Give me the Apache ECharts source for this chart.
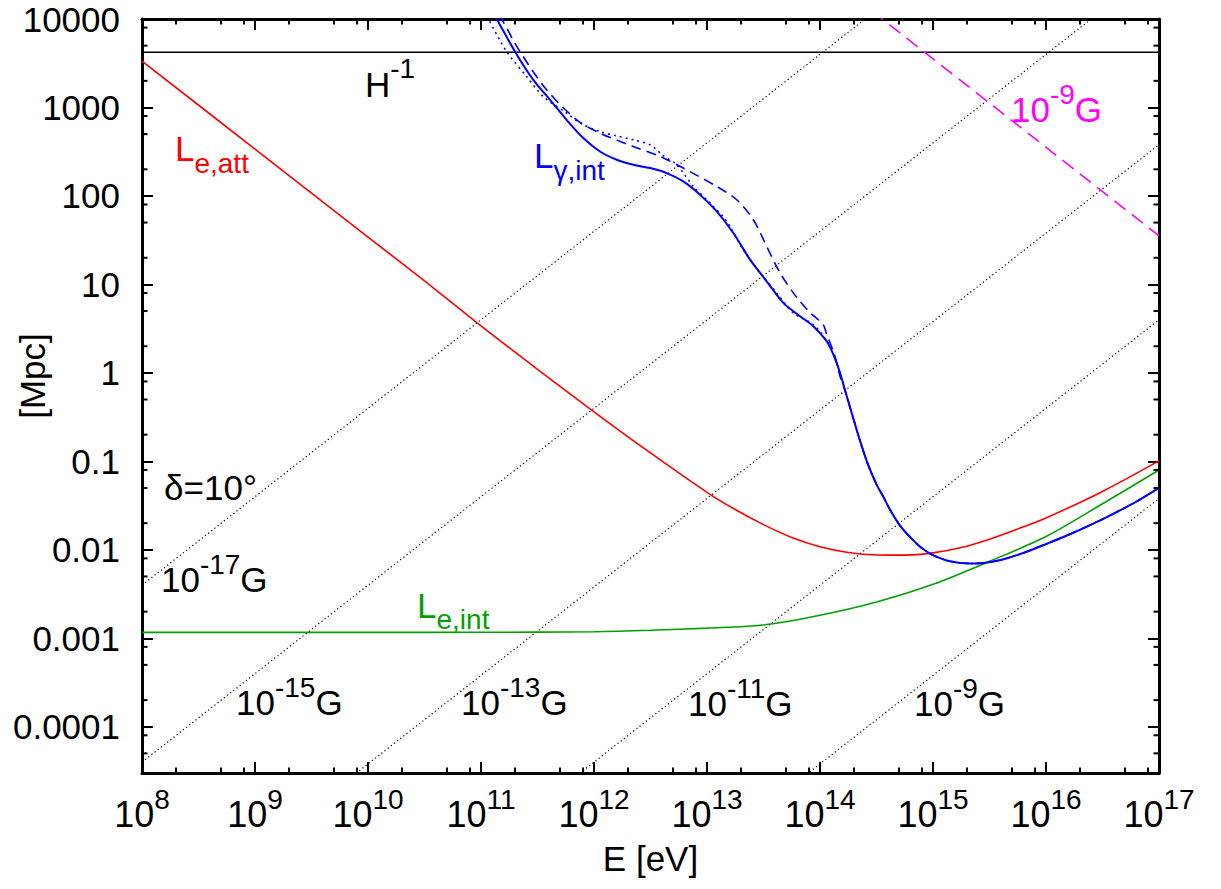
<!DOCTYPE html>
<html><head><meta charset="utf-8">
<script src="https://cdn.jsdelivr.net/npm/echarts@6/dist/echarts.min.js"></script>
<style>html,body{margin:0;padding:0;background:#fff}#c{width:1221px;height:889px}</style>
</head><body><div id="c"></div>
<script>
// ---------- axis ranges and ticks ----------
const X_MIN = 1e8, X_MAX = 1e17;
const Y_MIN = 3e-5, Y_MAX = 1e4;
const minorMultipliers = [2, 5, 8];
const xMinorDecades = [8, 9, 10, 11, 12, 13, 14, 15, 16];
const yMinorDecades = [-5, -4, -3, -2, -1, 0, 1, 2, 3];

// ---------- data (log10 E [eV], log10 L [Mpc]) ----------
const redLogE = [8, 9, 10, 10.5, 11, 11.5, 12, 12.5, 13, 13.25, 13.5, 13.75, 14, 14.25, 14.5, 14.75, 15, 15.25, 15.5, 15.75, 16, 16.5, 17];
const redLogL = [3.523, 2.53, 1.535, 1.04, 0.53, 0.04, -0.44, -0.905, -1.35, -1.545, -1.715, -1.86, -1.965, -2.03, -2.058, -2.06, -2.035, -1.975, -1.88, -1.765, -1.64, -1.34, -0.995];

const greenLogE = [8, 10, 11, 12, 12.5, 13, 13.5, 14, 14.5, 15, 15.5, 16, 16.5, 17];
const greenLogL = [-2.933, -2.933, -2.932, -2.926, -2.91, -2.885, -2.85, -2.74, -2.59, -2.39, -2.13, -1.85, -1.48, -1.098];

// common steep tail of the three photon curves
const tailLogE = [14.22, 14.28, 14.35, 14.42, 14.5, 14.56, 14.63, 14.71, 14.8, 14.9, 15.0, 15.15, 15.33, 15.45, 15.6, 15.8, 16.0, 16.2, 16.4, 16.6, 16.8, 17];
const tailLogL = [-0.19, -0.45, -0.75, -1.02, -1.26, -1.4, -1.57, -1.73, -1.86, -1.98, -2.06, -2.13, -2.155, -2.148, -2.115, -2.035, -1.935, -1.83, -1.715, -1.59, -1.455, -1.3];

const blueSolidLogE = [11.05, 11.139, 11.301, 11.463, 11.611, 11.758, 11.905, 12.053, 12.201, 12.348, 12.496, 12.643, 12.79, 12.938, 13.086, 13.233, 13.381, 13.528, 13.675, 13.764, 13.823, 13.941, 14.059, 14.118, 14.177];
const blueSolidLogL = [4.2, 4.0, 3.631, 3.312, 3.086, 2.86, 2.654, 2.502, 2.409, 2.352, 2.315, 2.258, 2.164, 2.014, 1.825, 1.581, 1.28, 1.035, 0.791, 0.696, 0.64, 0.527, 0.358, 0.208, 0.001];

const blueDashLogE = [11.09, 11.183, 11.345, 11.581, 11.847, 12.053, 12.348, 12.584, 12.79, 13.086, 13.263, 13.41, 13.528, 13.646, 13.764, 13.823, 13.912, 13.956, 14.029, 14.059, 14.118, 14.148, 14.177];
const blueDashLogL = [4.2, 4.0, 3.631, 3.199, 2.86, 2.71, 2.559, 2.446, 2.315, 2.107, 1.957, 1.731, 1.43, 1.13, 0.904, 0.809, 0.678, 0.633, 0.546, 0.434, 0.245, 0.114, -0.037];

const blueDotLogE = [11.0, 11.065, 11.227, 11.404, 11.551, 11.758, 11.891, 12.053, 12.201, 12.348, 12.496, 12.614, 12.732, 12.879, 13.027, 13.174, 13.321, 13.469, 13.617, 13.764, 13.941, 14.059, 14.118, 14.177];
const blueDotLogL = [4.15, 4.0, 3.631, 3.349, 3.123, 2.936, 2.815, 2.728, 2.679, 2.634, 2.578, 2.454, 2.352, 2.107, 1.92, 1.712, 1.393, 1.13, 0.904, 0.678, 0.546, 0.36, 0.21, 0.0];

const hubbleL = 4200;                 // H^-1 [Mpc]
const magentaLogE = [14.0, 17.0];     // 10^-9 G line
const magentaLogL = [4.55, 1.55];
// deflection lines for delta = 10 deg: log10 L at E = 1e8 and at E = 1e17
const deflNames = ['1e-17G', '1e-15G', '1e-13G', '1e-11G', '1e-9G'];
const deflLogLStart = [-2.40, -4.40, -6.42, -8.40, -10.42];
const deflLogLEnd = [6.60, 4.60, 2.58, 0.60, -1.42];

// ---------- helpers ----------
const pairs = (le, ll) => le.map((e, i) => [Math.pow(10, e), Math.pow(10, ll[i])]);
const FONT = 'Liberation Sans, Arial, Helvetica, sans-serif';

const richSup = {
  b: { fontSize: 35, lineHeight: 47, verticalAlign: 'bottom', fontFamily: FONT },
  p: { fontSize: 28, lineHeight: 28, verticalAlign: 'top', fontFamily: FONT }
};
const richSub = {
  l: { fontSize: 35, lineHeight: 46, verticalAlign: 'top', fontFamily: FONT },
  u: { fontSize: 28, lineHeight: 28, verticalAlign: 'bottom', fontFamily: FONT }
};

// annotation texts, anchored in data space (top-left of text box)
const annotations = [
  { t: '{b|H}{p|-1}', e: 9.973, l: 3.594, c: '#000', r: 'sup' },
  { t: '{l|L}{u|e,att}', e: 8.292, l: 2.730, c: '#ff0000', r: 'sub' },
  { t: '{l|L}{u|γ,int}', e: 11.469, l: 2.651, c: '#0000ff', r: 'sub' },
  { t: '{l|L}{u|e,int}', e: 10.434, l: -2.428, c: '#00a000', r: 'sub' },
  { t: 'δ=10°', e: 8.195, l: -1.293, c: '#000', r: 'plain' },
  { t: '{b|10}{p|-17}{b|G}', e: 8.168, l: -2.004, c: '#000', r: 'sup' },
  { t: '{b|10}{p|-15}{b|G}', e: 8.832, l: -3.398, c: '#000', r: 'sup' },
  { t: '{b|10}{p|-13}{b|G}', e: 10.823, l: -3.398, c: '#000', r: 'sup' },
  { t: '{b|10}{p|-11}{b|G}', e: 12.832, l: -3.404, c: '#000', r: 'sup' },
  { t: '{b|10}{p|-9}{b|G}', e: 14.832, l: -3.404, c: '#000', r: 'sup' },
  { t: '{b|10}{p|-9}{b|G}', e: 15.690, l: 3.306, c: '#ff00ff', r: 'sup' }
];

const minorX = [];
xMinorDecades.forEach(d => minorMultipliers.forEach(m => minorX.push([m * Math.pow(10, d), Y_MIN, 0])));
const minorY = [];
yMinorDecades.forEach(d => minorMultipliers.forEach(m => {
  const v = m * Math.pow(10, d);
  if (v > Y_MIN && v < Y_MAX) minorY.push([X_MIN, v, 1]);
}));

const chart = echarts.init(document.getElementById('c'), null, { renderer: 'svg' });

const axisLineStyle = { lineStyle: { color: '#000', width: 3 } };
const majorTick = { show: true, inside: true, length: 11, lineStyle: { color: '#000', width: 2 } };

const xBase = {
  type: 'log', logBase: 10, min: X_MIN, max: X_MAX,
  axisLine: axisLineStyle, axisTick: majorTick, splitLine: { show: false }, minorTick: { show: false }
};
const yBase = {
  type: 'log', logBase: 10, min: Y_MIN, max: Y_MAX,
  axisLine: axisLineStyle, axisTick: majorTick, splitLine: { show: false }, minorTick: { show: false }
};

const lineSeries = (name, data, color, width, type, smooth) => ({
  name, type: 'line', data, showSymbol: false, symbol: 'none', smooth: smooth,
  lineStyle: { color, width, type }, clip: true, silent: true, z: 3
});

const series = [];
deflLogLStart.forEach((s, i) => {
  series.push(lineSeries(deflNames[i], [[X_MIN, Math.pow(10, s)], [X_MAX, Math.pow(10, deflLogLEnd[i])]], '#000', 1.2, [1.2, 2.8], false));
});
series.push(lineSeries('H^-1', [[X_MIN, hubbleL], [X_MAX, hubbleL]], '#000', 1.5, 'solid', false));
series.push(lineSeries('B 1e-9 G', pairs(magentaLogE, magentaLogL), '#ff00ff', 1.6, [14, 8], false));
series.push(lineSeries('L_e,int', pairs(greenLogE, greenLogL), '#00a000', 1.6, 'solid', 0.3));
series.push(lineSeries('L_e,att', pairs(redLogE, redLogL), '#ff0000', 1.6, 'solid', 0.3));
series.push(lineSeries('L_gamma,int dotted', pairs(blueDotLogE.concat(tailLogE), blueDotLogL.concat(tailLogL)), '#0000ff', 1.6, [2, 4], 0.3));
series.push(lineSeries('L_gamma,int dashed', pairs(blueDashLogE.concat(tailLogE), blueDashLogL.concat(tailLogL)), '#0000ff', 1.6, [10, 6], 0.3));
series.push(lineSeries('L_gamma,int', pairs(blueSolidLogE.concat(tailLogE), blueSolidLogL.concat(tailLogL)), '#0000ff', 2, 'solid', 0.3));

// minor ticks on all four sides
series.push({
  type: 'custom', name: 'minorTicks', silent: true, z: 10,
  data: minorX.concat(minorY),
  renderItem: function (params, api) {
    const kind = api.value(2);
    const L = 5.5;
    const st = { stroke: '#000', lineWidth: 2 };
    if (kind === 0) {
      const v = api.value(0);
      const b = api.coord([v, Y_MIN]), t = api.coord([v, Y_MAX]);
      return { type: 'group', children: [
        { type: 'line', shape: { x1: b[0], y1: b[1], x2: b[0], y2: b[1] - L }, style: st },
        { type: 'line', shape: { x1: t[0], y1: t[1], x2: t[0], y2: t[1] + L }, style: st }
      ] };
    } else {
      const v = api.value(1);
      const l = api.coord([X_MIN, v]), r = api.coord([X_MAX, v]);
      return { type: 'group', children: [
        { type: 'line', shape: { x1: l[0], y1: l[1], x2: l[0] + L, y2: l[1] }, style: st },
        { type: 'line', shape: { x1: r[0], y1: r[1], x2: r[0] - L, y2: r[1] }, style: st }
      ] };
    }
  }
});

// annotations
series.push({
  type: 'custom', name: 'labels', silent: true, z: 12,
  data: annotations.map((a, i) => [Math.pow(10, a.e), Math.pow(10, a.l), i]),
  renderItem: function (params, api) {
    const a = annotations[api.value(2)];
    const p = api.coord([api.value(0), api.value(1)]);
    const style = { text: a.t, fill: a.c, fontSize: 35, fontFamily: FONT, align: 'left',
      verticalAlign: a.r === 'plain' ? 'middle' : 'top' };
    if (a.r === 'sup') style.rich = Object.fromEntries(Object.entries(richSup).map(([k, v]) => [k, Object.assign({}, v, { fill: a.c })]));
    if (a.r === 'sub') style.rich = Object.fromEntries(Object.entries(richSub).map(([k, v]) => [k, Object.assign({}, v, { fill: a.c })]));
    return { type: 'text', x: p[0], y: p[1], style };
  }
});

const yLabel = v => {
  const e = Math.round(Math.log10(v));
  return e >= 0 ? String(Math.pow(10, e)) : '0.' + '0'.repeat(-e - 1) + '1';
};

chart.setOption({
  animation: false,
  backgroundColor: '#fff',
  grid: { left: 142, top: 19, width: 1017, height: 754, show: false, containLabel: false, outerBoundsMode: 'none' },
  xAxis: [
    Object.assign({}, xBase, {
      position: 'bottom',
      name: 'E [eV]', nameLocation: 'middle', nameGap: 68, nameMoveOverlap: false,
      nameTextStyle: { fontSize: 35, color: '#000', fontFamily: FONT },
      axisLabel: {
        margin: 12, color: '#000', fontFamily: FONT,
        formatter: v => '{b|10}{p|' + Math.round(Math.log10(v)) + '}',
        rich: {
          b: { fontSize: 36, lineHeight: 47, verticalAlign: 'bottom', color: '#000', fontFamily: FONT },
          p: { fontSize: 28, lineHeight: 28, verticalAlign: 'top', color: '#000', fontFamily: FONT }
        }
      }
    }),
    Object.assign({}, xBase, { position: 'top', axisLabel: { show: false } })
  ],
  yAxis: [
    Object.assign({}, yBase, {
      position: 'left',
      name: '[Mpc]', nameLocation: 'middle', nameGap: 92, nameMoveOverlap: false,
      nameTextStyle: { fontSize: 35, color: '#000', fontFamily: FONT, padding: [0, 0, 0, 40] },
      axisLabel: { margin: 22, color: '#000', fontSize: 35, fontFamily: FONT, showMinLabel: false, formatter: yLabel }
    }),
    Object.assign({}, yBase, { position: 'right', axisLabel: { show: false } })
  ],
  series
});
</script>
</body></html>
